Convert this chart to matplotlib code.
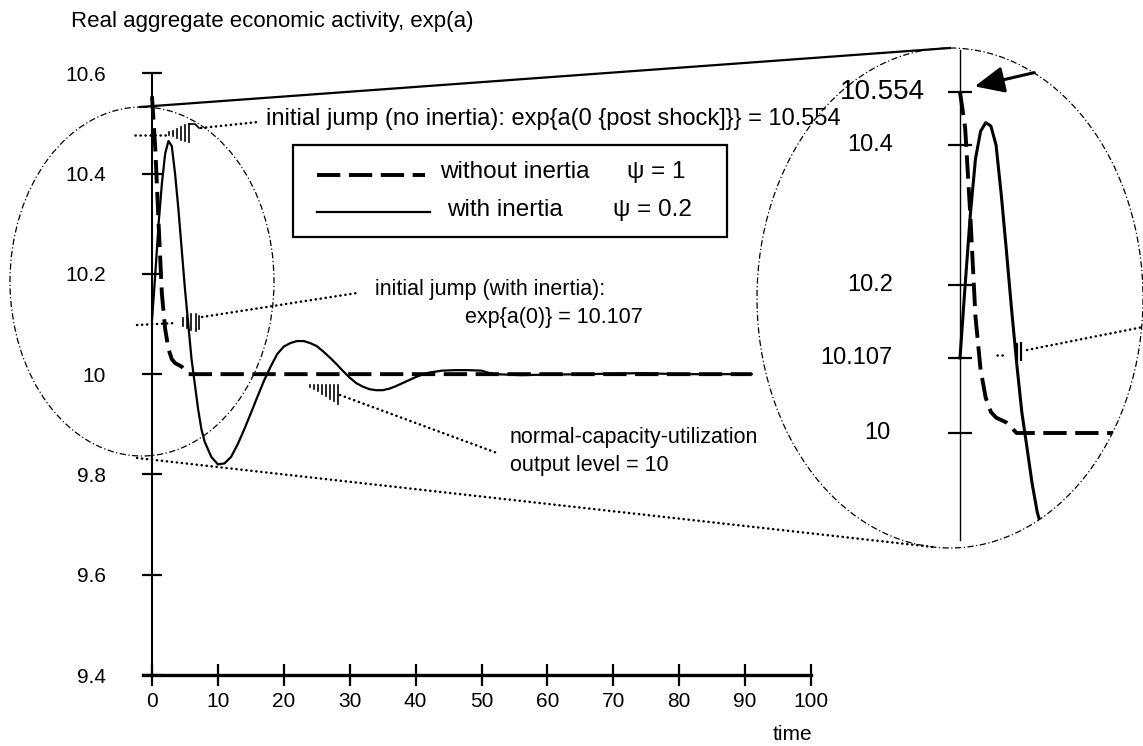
import numpy as np
import matplotlib
matplotlib.use("Agg")
import matplotlib.pyplot as plt
from matplotlib.lines import Line2D
from matplotlib.patches import Ellipse, Rectangle, FancyArrowPatch
from matplotlib.transforms import Affine2D, blended_transform_factory

plt.rcParams['font.family'] = ['Liberation Sans', 'DejaVu Sans']

# ---------------- data ----------------
t_no_inertia = [0, 0.5, 1.0, 1.5, 2.0, 2.5, 3.0, 3.5, 4.5, 5.5, 10, 20, 30, 40, 50, 60, 70, 80, 91]
y_no_inertia = [10.554, 10.45, 10.30, 10.16, 10.09, 10.05, 10.03, 10.022, 10.015, 10.0,
                10.0, 10.0, 10.0, 10.0, 10.0, 10.0, 10.0, 10.0, 10.0]

t_inertia = [0, 0.5, 1, 1.5, 2, 2.5, 3, 3.5, 4, 4.5, 5, 5.5, 6, 6.5, 7, 7.5, 8, 9, 10, 11, 12,
             13, 14, 15, 16, 17, 18, 19, 20, 21, 22, 23, 24, 25, 26, 27, 28, 29, 30, 31, 32,
             33, 34, 35, 36, 37, 38, 39, 40, 41, 42, 44, 46, 48, 50, 51, 52, 56, 60, 66, 70,
             74, 77, 80, 91]
y_inertia = [10.107, 10.20, 10.30, 10.38, 10.44, 10.465, 10.455, 10.40, 10.33, 10.25, 10.17,
             10.10, 10.03, 9.98, 9.93, 9.89, 9.865, 9.835, 9.82, 9.822, 9.835,
             9.86, 9.89, 9.922, 9.955, 9.987, 10.015, 10.04, 10.055, 10.062, 10.066, 10.066,
             10.062, 10.056, 10.045, 10.033, 10.02, 10.006, 9.993, 9.982, 9.975,
             9.97, 9.968, 9.968, 9.971, 9.976, 9.982, 9.988, 9.994, 9.999, 10.003, 10.007,
             10.008, 10.008, 10.007, 10.003, 10.0, 9.998, 9.999, 10.0, 10.001,
             10.002, 10.001, 10.0, 10.0]

x_ticks = [0, 10, 20, 30, 40, 50, 60, 70, 80, 90, 100]
y_ticks = [9.4, 9.6, 9.8, 10.0, 10.2, 10.4, 10.6]
y_tick_labels = ['9.4', '9.6', '9.8', '10', '10.2', '10.4', '10.6']

inset_ticks = [10.0, 10.107, 10.2, 10.4, 10.554]
inset_tick_labels = ['10', '10.107', '10.2', '10.4', '10.554']

# ---------------- figure ----------------
W, H = 1143, 746
fig = plt.figure(figsize=(W / 100, H / 100), dpi=100)
# pixel transform with origin at top-left of the figure
T = Affine2D().scale(1 / W, -1 / H).translate(0, 1) + fig.transFigure

def fx(x):
    return x / W

def fy(y):
    return 1 - y / H

dash_style = dict(color='black', lw=2.8, linestyle=(0, (6, 2.2)), dash_capstyle='butt')
solid_style = dict(color='black', lw=1.6, linestyle='-')

# main axes: x 0..100 -> px 152..811, y 9.4..10.6 -> px 675..73.3
px_per_t = (811 - 152) / 100
x_left = -(152 - 143.4) / px_per_t
ax = fig.add_axes([fx(143.4), fy(675), (811 - 143.4) / W, (675 - 73.3) / H])
ax.patch.set_visible(False)
ax.set_xlim(x_left, 100)
ax.set_ylim(9.4, 10.6)
for s in ['top', 'right']:
    ax.spines[s].set_visible(False)
ax.spines['left'].set_position(('data', 0))
ax.spines['left'].set_linewidth(1.5)
ax.spines['bottom'].set_linewidth(2.4)
ax.set_xticks(x_ticks)
ax.set_yticks(y_ticks, labels=y_tick_labels)
ax.tick_params(direction='inout', length=14, width=1.6, labelsize=15, colors='black')
ax.tick_params(axis='y', pad=26)
ax.tick_params(axis='x', pad=4, length=16)

ax.plot(t_no_inertia, y_no_inertia, **dash_style, zorder=3)
ax.plot(t_inertia, y_inertia, **solid_style, zorder=4)

fig.text(71, 22, 'Real aggregate economic activity, exp(a)', transform=T,
         fontsize=16, va='center', ha='left')
fig.text(812, 735, 'time', transform=T, fontsize=15, va='center', ha='right')

# ---------------- legend (drawn as a box) ----------------
fig.add_artist(Rectangle((293, 145), 434, 92, transform=T, fill=False, lw=1.6, ec='black'))
fig.add_artist(Line2D([317, 425], [175, 175], transform=T, **dash_style))
fig.add_artist(Line2D([317, 430], [212, 212], transform=T, **solid_style))
fig.text(440, 172, 'without inertia', transform=T, fontsize=17.5, va='center', ha='left')
fig.text(627, 172, 'ψ = 1', transform=T, fontsize=17.5, va='center', ha='left')
fig.text(447, 210, 'with inertia', transform=T, fontsize=17.5, va='center', ha='left')
fig.text(613, 210, 'ψ = 0.2', transform=T, fontsize=17.5, va='center', ha='left')

# ---------------- magnifier ellipses and connectors ----------------
ell_style = dict(fill=False, ec='black', lw=0.9, linestyle=(0, (5, 2, 1, 2)))
fig.add_artist(Ellipse((142, 281.5), 264, 349, transform=T, **ell_style))
fig.add_artist(Ellipse((950, 298), 386, 500, transform=T, **ell_style))
fig.add_artist(Line2D([140, 950], [107, 48], transform=T, color='black', lw=1.6))
dot_style = dict(color='black', lw=1.8, linestyle=(0, (0.1, 1.9)), dash_capstyle='round')
fig.add_artist(Line2D([137, 933], [458, 547], transform=T, **dot_style))

# ---------------- annotation leaders ----------------
def hatch(xs, tops, bots, lw=1.2):
    for x, a, b in zip(xs, tops, bots):
        fig.add_artist(Line2D([x, x], [a, b], transform=T, color='black', lw=lw))

# no inertia jump
fig.add_artist(Line2D([135, 166], [135, 135], transform=T, **dot_style))
hatch([169, 173, 177, 181, 185, 189], [132, 131, 129, 127, 125, 124],
      [135, 136, 138, 140, 141, 142])
fig.add_artist(Line2D([189, 195, 199], [124, 124, 128], transform=T, color='black', lw=1.2))
fig.add_artist(Line2D([201, 258], [128, 122], transform=T, **dot_style))
fig.text(266, 119, 'initial jump (no inertia): exp{a(0 {post shock]}} = 10.554',
         transform=T, fontsize=17, va='center', ha='left')

# with inertia jump
fig.add_artist(Line2D([137, 176], [325, 323], transform=T, **dot_style))
hatch([183, 187, 191, 196, 199], [318, 316, 314, 314, 316], [326, 328, 330, 331, 329])
fig.add_artist(Line2D([202, 357], [317, 293], transform=T, **dot_style))
fig.text(375, 289, 'initial jump (with inertia):', transform=T,
         fontsize=15.5, va='center', ha='left')
fig.text(465, 317, 'exp{a(0)} = 10.107', transform=T,
         fontsize=15.5, va='center', ha='left')

# normal level
hatch([310, 314, 318, 322, 326, 330, 334, 338], [385] * 8,
      [387, 389, 391, 394, 396, 399, 401, 404])
fig.add_artist(Line2D([340, 497], [395, 453], transform=T, **dot_style))
fig.text(510, 438, 'normal-capacity-utilization', transform=T,
         fontsize=15.5, va='center', ha='left')
fig.text(510, 465, 'output level = 10', transform=T,
         fontsize=15.5, va='center', ha='left')

# ---------------- magnified inset ----------------
anchor_vals = np.array([9.5, 10.0, 10.107, 10.2, 10.4, 10.554, 10.7])
anchor_pix = -np.array([793, 433, 358, 285, 145, 92, 42], dtype=float)

def fwd(v):
    return np.interp(v, anchor_vals, anchor_pix)

def inv(p):
    return np.interp(p, anchor_pix, anchor_vals)

in_px_per_t = 10.3
ax_in = fig.add_axes([fx(757), fy(540), (1143 - 757) / W, (540 - 50) / H])
ax_in.patch.set_visible(False)
ax_in.set_xlim((757 - 960) / in_px_per_t, (1143 - 960) / in_px_per_t)
ax_in.set_yscale('function', functions=(fwd, inv))
ax_in.set_ylim(float(inv(-540)), float(inv(-50)))
for s in ['top', 'right', 'bottom']:
    ax_in.spines[s].set_visible(False)
ax_in.spines['left'].set_position(('data', 0))
ax_in.spines['left'].set_linewidth(1.0)
ax_in.set_xticks([])
ax_in.set_yticks(inset_ticks, labels=[''] * len(inset_ticks))
ax_in.yaxis.set_minor_locator(matplotlib.ticker.NullLocator())
ax_in.tick_params(axis='y', direction='inout', length=17, width=1.6)

clip = Ellipse((950, 298), 386, 500, transform=T)
l1, = ax_in.plot(t_no_inertia, y_no_inertia, **dash_style)
l2, = ax_in.plot(t_inertia, y_inertia, color='black', lw=2.2)
l1.set_clip_path(clip)
l2.set_clip_path(clip)

btr = blended_transform_factory(T, ax_in.transData)
for v, lab in zip(inset_ticks, inset_tick_labels):
    if lab == '10.554':
        ax_in.text(925, v, lab, transform=btr, fontsize=20, va='center', ha='right')
    elif lab == '10':
        ax_in.text(890, v, lab, transform=btr, fontsize=17, va='center', ha='right')
    else:
        ax_in.text(893, v, lab, transform=btr, fontsize=17, va='center', ha='right')

fig.add_artist(FancyArrowPatch((1037, 72), (972, 87), transform=T,
                               arrowstyle='-|>,head_length=1.0,head_width=0.45',
                               mutation_scale=18, lw=2.2, color='black'))
fig.add_artist(Line2D([997, 1003], [355, 355], transform=T, **dot_style))
hatch([1017, 1021], [344, 343], [360, 360], lw=1.6)
fig.add_artist(Line2D([1027, 1143], [350, 327], transform=T, **dot_style))

fig.savefig('out.png', dpi=100)
